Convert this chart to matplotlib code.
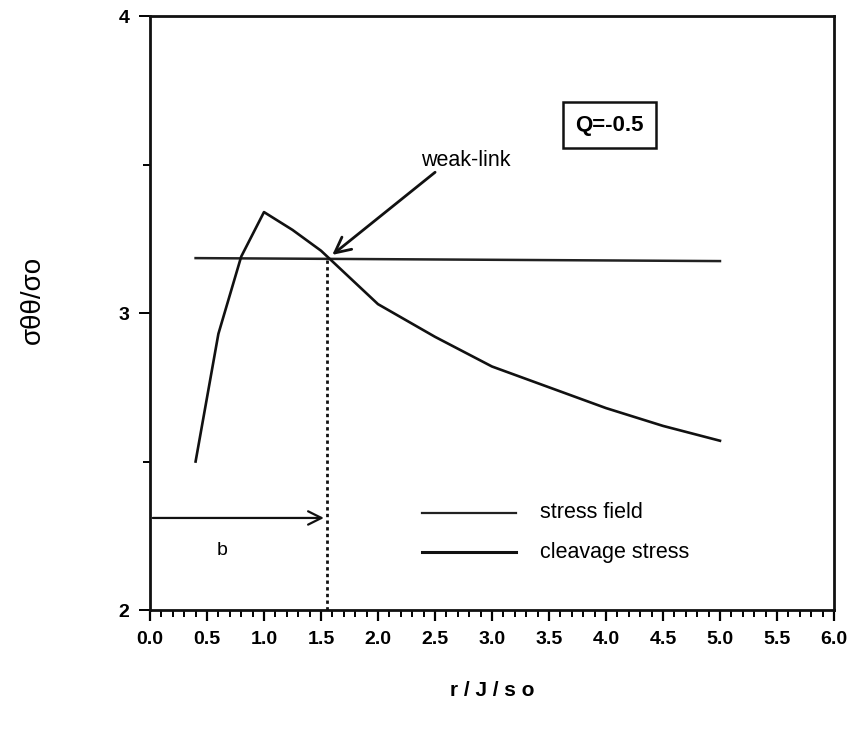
import matplotlib
matplotlib.use("Agg")
import matplotlib.pyplot as plt
from matplotlib.ticker import MultipleLocator

plt.rcParams['font.family'] = ['Liberation Sans', 'DejaVu Sans']

# cleavage stress curve
r_cleav = [0.4, 0.6, 0.8, 1.0, 1.25, 1.5, 2.0, 2.5, 3.0, 3.5, 4.0, 4.5, 5.0]
s_cleav = [2.50, 2.93, 3.19, 3.34, 3.28, 3.21, 3.03, 2.92, 2.82, 2.75, 2.68, 2.62, 2.57]

# stress field (horizontal line)
r_field = [0.4, 5.0]
s_field = [3.185, 3.175]

# weak-link location
r_weak = 1.55
s_weak = 3.185
b_level = 2.31

x_ticks = [0.0, 0.5, 1.0, 1.5, 2.0, 2.5, 3.0, 3.5, 4.0, 4.5, 5.0, 5.5, 6.0]
y_ticks = [2, 3, 4]

fig = plt.figure(figsize=(8.68, 7.31), dpi=100)
ax = fig.add_axes([0.1728, 0.1655, 0.788, 0.8125])

ax.plot(r_field, s_field, color='#222222', lw=1.8)
ax.plot(r_cleav, s_cleav, color='#111111', lw=1.9)

# dotted vertical line at weak link
ax.plot([r_weak, r_weak], [2.0, s_weak], color='#111111', lw=2.0, ls=(0, (1.2, 1.2)))

# b arrow
ax.annotate('', xy=(r_weak, b_level), xytext=(0.0, b_level),
            arrowprops=dict(arrowstyle='->', color='#111111', lw=1.6, mutation_scale=24))
ax.text(0.63, 2.2, 'b', fontsize=14, ha='center', va='center')

# weak-link arrow
ax.annotate('', xy=(1.58, 3.19), xytext=(2.52, 3.48),
            arrowprops=dict(arrowstyle='->', color='#111111', lw=2.0, mutation_scale=28))
ax.text(2.77, 3.515, 'weak-link', fontsize=15.5, ha='center', va='center')

# Q box
ax.text(4.03, 3.633, 'Q=-0.5', fontsize=16, fontweight='bold', ha='center', va='center',
        bbox=dict(boxstyle='square,pad=0.55', fc='white', ec='#111111', lw=1.8))

# legend (drawn manually)
ax.plot([2.39, 3.21], [2.327, 2.327], color='#222222', lw=1.6)
ax.plot([2.39, 3.21], [2.195, 2.195], color='#111111', lw=2.2)
ax.text(3.42, 2.327, 'stress field', fontsize=15.5, ha='left', va='center')
ax.text(3.42, 2.195, 'cleavage stress', fontsize=15.5, ha='left', va='center')

ax.set_xlim(0, 6)
ax.set_ylim(2, 4)
ax.set_xticks(x_ticks)
ax.set_xticklabels([f'{v:.1f}' for v in x_ticks], fontsize=14, fontweight='bold')
ax.xaxis.set_minor_locator(MultipleLocator(0.1))
ax.set_yticks(y_ticks)
ax.set_yticklabels([str(v) for v in y_ticks], fontsize=14, fontweight='bold')
ax.yaxis.set_minor_locator(MultipleLocator(0.5))

ax.tick_params(axis='x', which='major', direction='out', length=8, width=1.6, pad=7)
ax.tick_params(axis='x', which='minor', direction='out', length=5, width=1.4)
ax.tick_params(axis='y', which='major', direction='out', length=8, width=1.4, pad=7)
ax.tick_params(axis='y', which='minor', direction='out', length=5, width=1.4)

for sp in ax.spines.values():
    sp.set_linewidth(2.0)
    sp.set_color('#111111')

ax.set_xlabel('r / J / s o', fontsize=15, fontweight='bold')
ax.xaxis.set_label_coords(0.5, -0.12)
fig.text(0.038, 0.59, 'σθθ/σo', fontsize=20, rotation=90, ha='center', va='center')

fig.savefig('out.png', dpi=100)
